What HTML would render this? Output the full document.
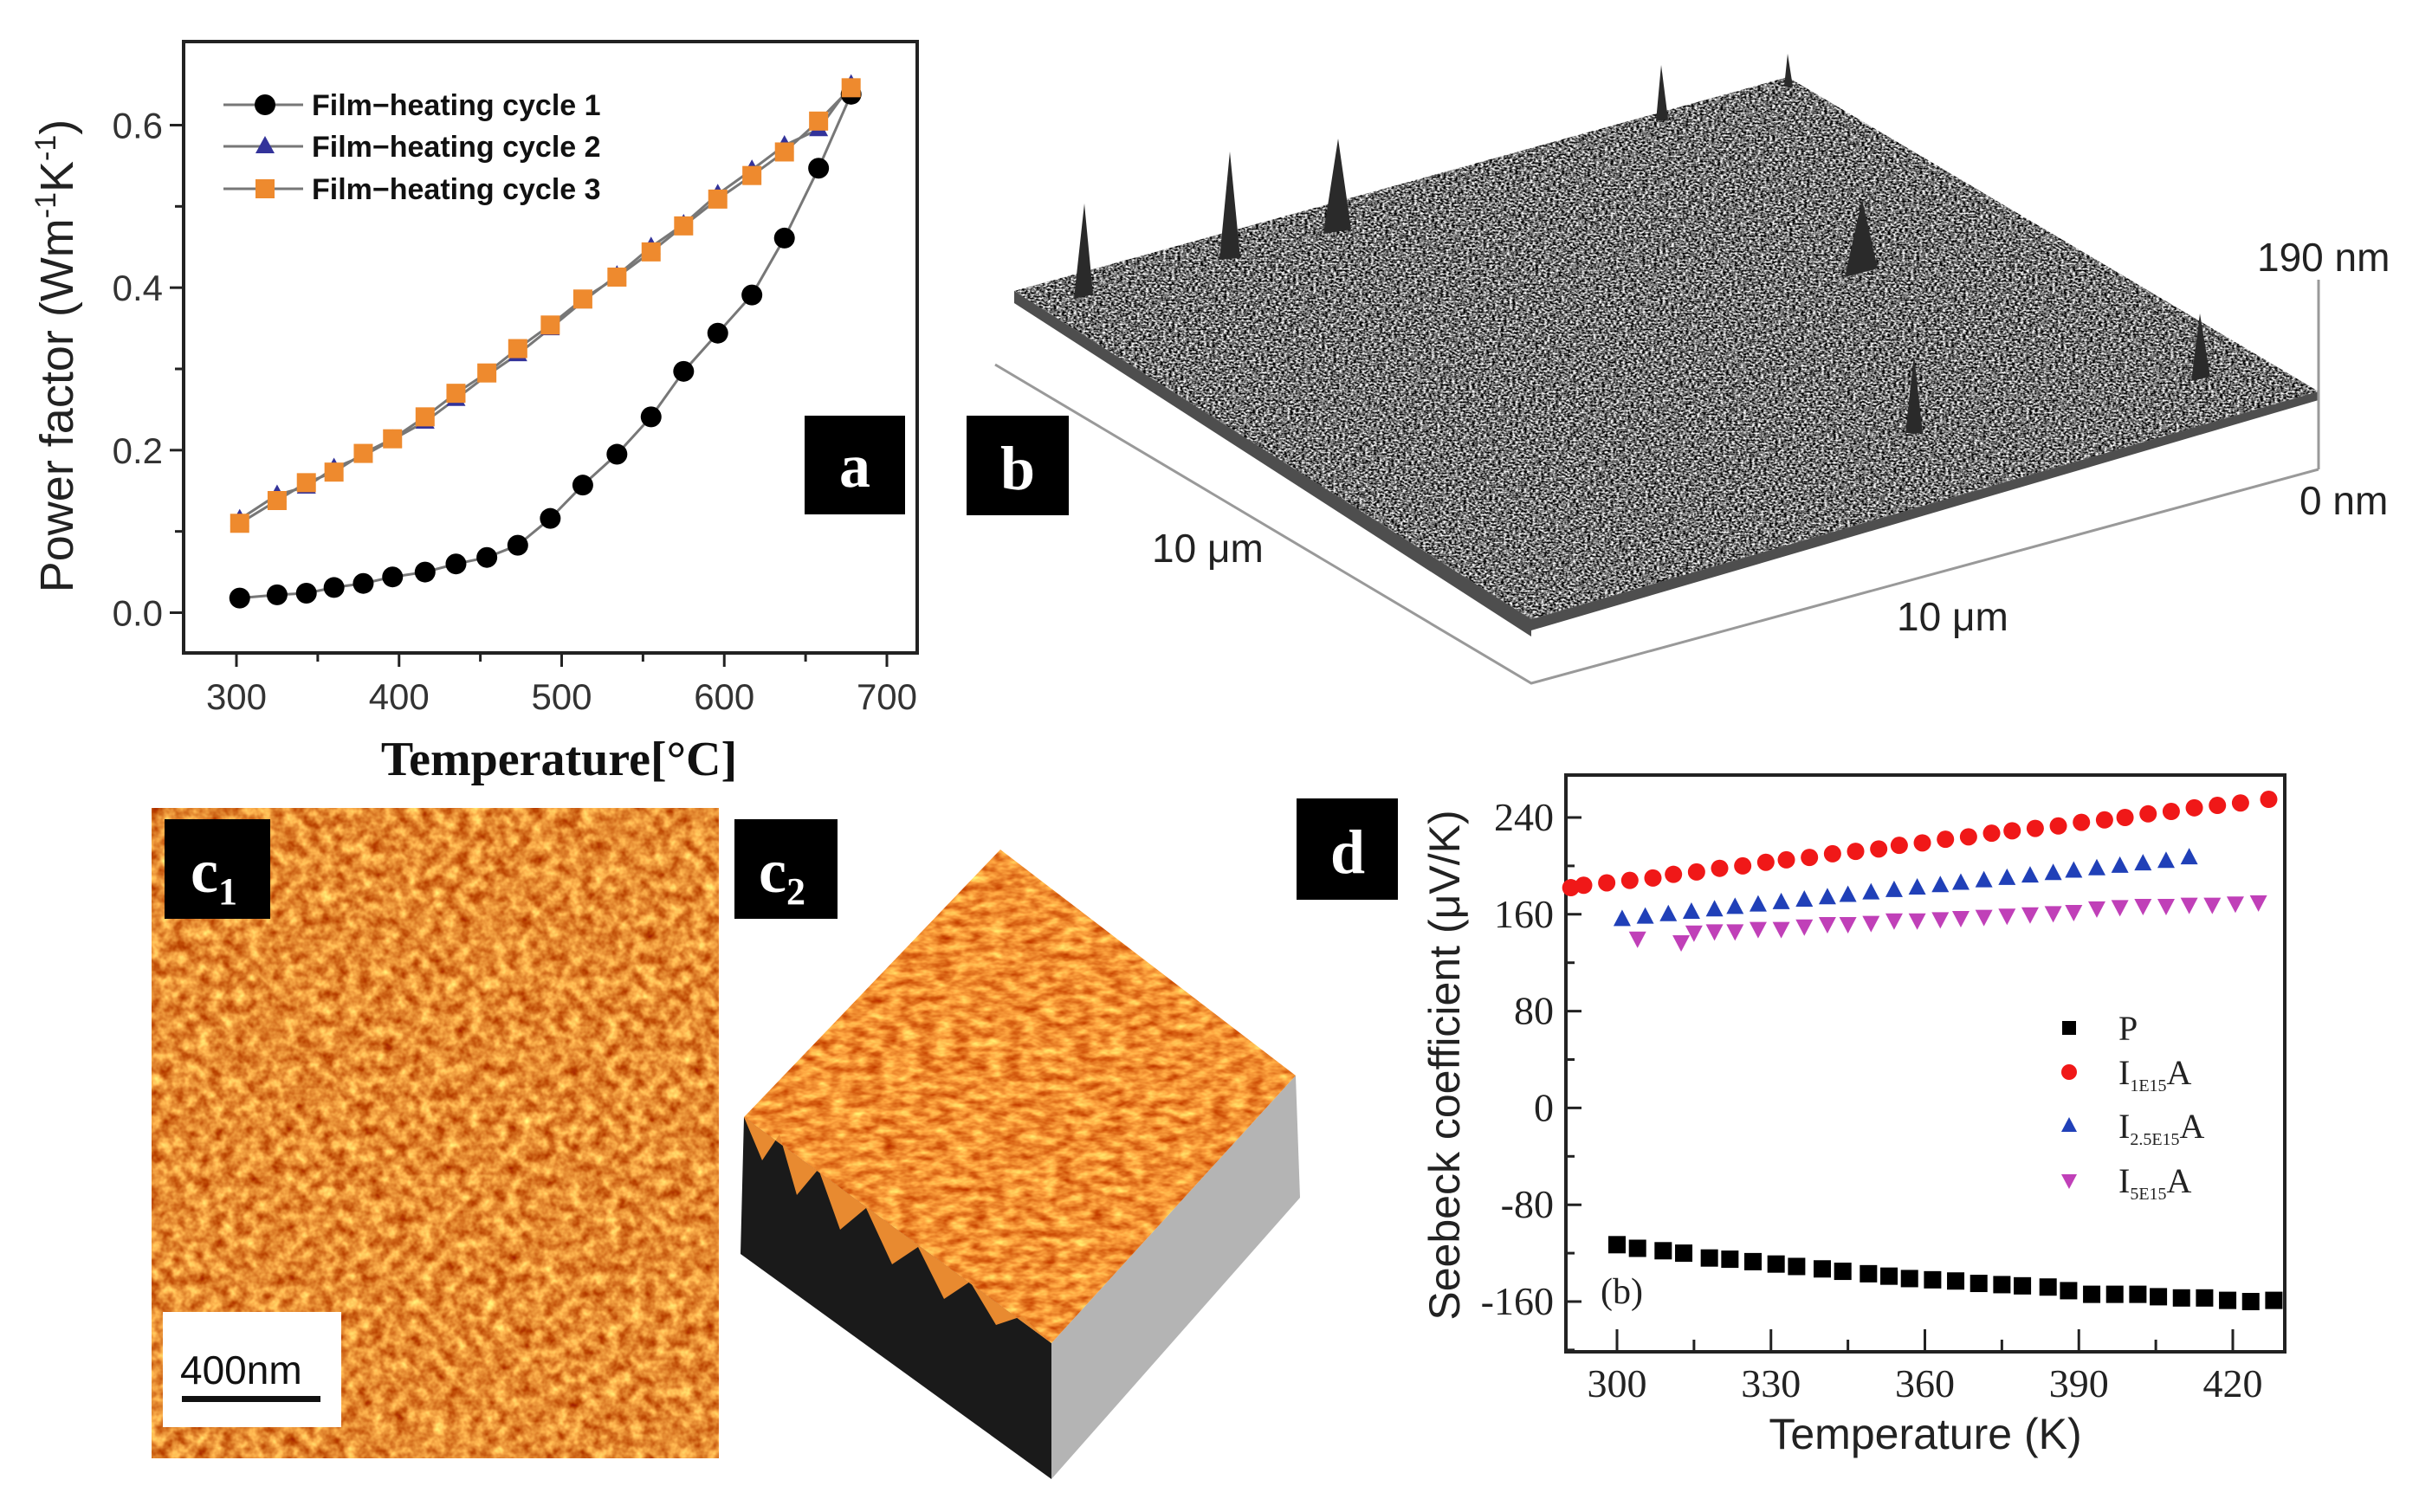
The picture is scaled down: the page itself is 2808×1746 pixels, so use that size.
<!DOCTYPE html>
<html><head><meta charset="utf-8">
<style>
html,body{margin:0;padding:0;background:#fff;}
svg{display:block;}
text{font-family:"Liberation Sans",sans-serif;}
.serif{font-family:"Liberation Serif",serif;}
</style></head>
<body>
<svg id="fig" width="2808" height="1746" viewBox="0 0 2808 1746" xmlns="http://www.w3.org/2000/svg">
<defs>
  <filter id="grayNoise" x="0" y="0" width="100%" height="100%" color-interpolation-filters="sRGB">
    <feTurbulence type="fractalNoise" baseFrequency="0.3 0.5" numOctaves="2" seed="3" result="n"/>
    <feColorMatrix type="matrix" values="1 0 0 0 0  1 0 0 0 0  1 0 0 0 0  0 0 0 0 1" in="n" result="g"/>
    <feComponentTransfer in="g"><feFuncR type="linear" slope="2.4" intercept="-0.75"/><feFuncG type="linear" slope="2.4" intercept="-0.75"/><feFuncB type="linear" slope="2.4" intercept="-0.75"/></feComponentTransfer>
  </filter>
  <filter id="orangeNoise" x="0" y="0" width="100%" height="100%" color-interpolation-filters="sRGB">
    <feTurbulence type="fractalNoise" baseFrequency="0.07" numOctaves="3" seed="7" result="n"/>
    <feColorMatrix type="matrix" values="0.6 0 0 0 0.6  1.0 0 0 0 0.05  0.7 0 0 0 -0.15  0 0 0 0 1" in="n"/>
  </filter>
  <filter id="orangeNoise2" x="0" y="0" width="100%" height="100%" color-interpolation-filters="sRGB">
    <feTurbulence type="fractalNoise" baseFrequency="0.05 0.1" numOctaves="3" seed="11" result="n"/>
    <feColorMatrix type="matrix" values="0.5 0 0 0 0.7  0.9 0 0 0 0.12  0.6 0 0 0 -0.1  0 0 0 0 1" in="n"/>
  </filter>
  <clipPath id="surfB"><polygon points="1171,336 2064,89 2677,452 1768,715"/></clipPath>
  <clipPath id="c1clip"><rect x="175" y="933" width="655" height="751"/></clipPath>
  <clipPath id="c2top"><polygon points="859,1290 1155,981 1496,1242 1214,1551"/></clipPath>
</defs>

<!-- Panel b -->
<g>
  <g clip-path="url(#surfB)">
    <rect x="1150" y="80" width="1540" height="650" fill="#666" filter="url(#grayNoise)"/>
  </g>
  <polygon points="1171,336 1768,715 1768,735 1171,350" fill="#222" opacity="0.8"/>
  <polygon points="1768,715 2677,452 2677,462 1768,728" fill="#222" opacity="0.8"/>
  <g fill="#2a2a2a">
    <polygon points="1240,345 1252,235 1262,340"/>
    <polygon points="1408,300 1420,175 1432,298"/>
    <polygon points="1528,270 1545,160 1560,265"/>
    <polygon points="1912,140 1918,75 1926,138"/>
    <polygon points="2060,100 2064,62 2070,100"/>
    <polygon points="2130,320 2150,230 2168,310"/>
    <polygon points="2530,440 2540,362 2552,435"/>
    <polygon points="2200,500 2210,410 2220,500"/>
  </g>
  <g stroke="#999" stroke-width="3" fill="none">
    <polyline points="1149,421 1768,789 2677,542"/>
    <line x1="2677" y1="323" x2="2677" y2="542"/>
  </g>
  <text x="2606" y="313" font-size="46" fill="#222">190 nm</text>
  <text x="2655" y="594" font-size="46" fill="#222">0 nm</text>
  <text x="1330" y="649" font-size="46" fill="#222">10 μm</text>
  <text x="2190" y="728" font-size="46" fill="#222">10 μm</text>
  <rect x="1116" y="480" width="118" height="115" fill="#000"/>
  <text x="1175" y="565" font-size="72" font-weight="bold" fill="#fff" text-anchor="middle" class="serif">b</text>
</g>

<!-- Panel c1 -->
<g>
  <g clip-path="url(#c1clip)"><rect x="175" y="933" width="655" height="751" fill="#d98030" filter="url(#orangeNoise)"/></g>
  <rect x="190" y="946" width="122" height="115" fill="#000"/>
  <text x="220" y="1030" font-size="72" font-weight="bold" fill="#fff" class="serif">c<tspan font-size="44" dy="14">1</tspan></text>
  <rect x="188" y="1515" width="206" height="133" fill="#fff"/>
  <text x="208" y="1598" font-size="46" fill="#111">400nm</text>
  <rect x="210" y="1612" width="160" height="7" fill="#111"/>
</g>

<!-- Panel c2 -->
<g>
  <polygon points="859,1290 1214,1551 1214,1708 855,1448" fill="#1a1a1a"/>
  <polygon points="1214,1551 1496,1242 1501,1383 1214,1708" fill="#b4b4b4"/>
  <g clip-path="url(#c2top)"><rect x="850" y="975" width="660" height="590" fill="#e88a30" filter="url(#orangeNoise2)"/></g>
  <polyline points="859,1290 880,1340 900,1310 920,1380 945,1350 970,1420 1000,1395 1030,1460 1060,1440 1090,1500 1120,1480 1150,1530 1180,1520 1214,1551" fill="#e88a30" stroke="none"/>
  <rect x="848" y="946" width="119" height="115" fill="#000"/>
  <text x="876" y="1030" font-size="72" font-weight="bold" fill="#fff" class="serif">c<tspan font-size="44" dy="14">2</tspan></text>
</g>

<g id="chartA"></g>
<g id="chartD"></g>
</svg>

<script>
// ---------- Panel a data ----------
const aTemps = [302,325,343,360,378,396,416,435,454,473,493,513,534,555,575,596,617,637,658,678];
const aCycle1 = [0.018,0.022,0.024,0.031,0.036,0.044,0.050,0.060,0.068,0.083,0.116,0.157,0.195,0.241,0.297,0.344,0.391,0.461,0.547,0.638];
const aCycle2 = [0.115,0.145,0.155,0.178,0.193,0.213,0.235,0.263,0.292,0.318,0.350,0.383,0.415,0.450,0.478,0.515,0.545,0.575,0.595,0.650];
const aCycle3 = [0.110,0.138,0.160,0.173,0.196,0.214,0.241,0.270,0.295,0.325,0.354,0.386,0.413,0.444,0.476,0.509,0.538,0.567,0.605,0.646];
const aXTicks = [300,400,500,600,700];
const aYTicks = [0.0,0.2,0.4,0.6];
const aLegend = ["Film\u2212heating cycle 1","Film\u2212heating cycle 2","Film\u2212heating cycle 3"];

// ---------- Panel d data ----------
const dTempsRed = [291,293.5,298,302.5,307,311,315.5,320,324.5,329,333,337.5,342,346.5,351,355,359.5,364,368.5,373,377,381.5,386,390.5,395,399,403.5,408,412.5,417,421.5,427];
const dRed = [182,184,186,188,190,193,195,198,200,203,205,207,210,212,214,217,219,222,224,227,229,231,233,236,238,240,243,245,248,250,252,255];
const dTempsBlue = [301,305.5,310,314.5,319,323,327.5,332,336.5,341,345,349.5,354,358.5,363,367,371.5,376,380.5,385,389,393.5,398,402.5,407,411.5];
const dBlue = [156,158,160,162,164,166,168,170,172,174,176,178,180,182,184,186,188,190,192,194,196,198,200,202,204,207];
const dTempsMag = [304,312.5,315,319,323,327.5,332,336.5,341,345,349.5,354,358.5,363,367,371.5,376,380.5,385,389,393.5,398,402.5,407,411.5,416,420.5,425];
const dMag = [140,137,145,146,146,148,148,150,152,152,153,155,155,156,157,158,159,160,161,162,165,166,167,167,168,168,169,170];
const dTempsP = [300,304,309,313,318,322,326.5,331,335,340,344,349,353,357,361.5,366,370.5,375,379,384,388,392.5,397,401.5,405.5,410,414.5,419,423.5,428];
const dP = [-113,-116,-118,-120,-124,-125,-127,-129,-131,-133,-135,-137,-139,-141,-142,-143,-145,-146,-147,-148,-151,-154,-154,-154,-156,-157,-157,-159,-160,-159];
const dXTicks = [300,330,360,390,420];
const dYTicks = [240,160,80,0,-80,-160];

const NS = "http://www.w3.org/2000/svg";
function mk(tag, attrs, parent){ const e=document.createElementNS(NS,tag); for(const k in attrs) e.setAttribute(k,attrs[k]); parent.appendChild(e); return e; }

// ---------- Draw panel a ----------
(function(){
  const g = document.getElementById('chartA');
  const L=212,R=1059,T=48,B=754;
  const xs = v => 273 + (v-300)*(1024-273)/400;
  const ys = v => 707.5 - v*(707.5-144.5)/0.6;
  const box = mk('rect',{x:L,y:T,width:R-L,height:B-T,fill:'none',stroke:'#222','stroke-width':4},g);
  
  
  for(let v=300; v<=700; v+=50){
    const t=mk('line',{x1:xs(v),x2:xs(v),y1:B,y2:B+(v%100===0?16:10),stroke:'#222','stroke-width':3},g);
    
    
  }
  aXTicks.forEach(v=>{
    const t=mk('text',{x:xs(v),y:B+65,'font-size':42,'text-anchor':'middle',fill:'#333'},g); t.textContent=v;
    
    
  });
  for(let v=0; v<=0.65; v+=0.1){
    const t=mk('line',{x1:L,x2:L-(Math.round(v*10)%2===0?16:10),y1:ys(v),y2:ys(v),stroke:'#222','stroke-width':3},g);
    
    
  }
  aYTicks.forEach(v=>{
    const t=mk('text',{x:L-24,y:ys(v)+15,'font-size':42,'text-anchor':'end',fill:'#333'},g); t.textContent=v.toFixed(1);
    
    
  });
  const yt=mk('text',{x:0,y:0,'font-size':54,'text-anchor':'middle',fill:'#222',transform:'translate(84,'+((T+B)/2+10)+') rotate(-90)'},g);
  yt.innerHTML='Power factor (Wm<tspan font-size="34" dy="-20">-1</tspan><tspan dy="20">K</tspan><tspan font-size="34" dy="-20">-1</tspan><tspan dy="20">)</tspan>';
  
  
  const xt=mk('text',{x:(L+R)/2+10,y:895,'font-size':56,'font-weight':'bold','text-anchor':'middle',fill:'#111','class':'serif'},g);
  xt.textContent='Temperature[\u00b0C]';
  
  

  function line(vals, name){
    const p=mk('polyline',{points:aTemps.map((t,i)=>xs(t)+','+ys(vals[i])).join(' '),fill:'none',stroke:'#777','stroke-width':3},g);
    
    
  }
  line(aCycle1,'cycle1-line'); line(aCycle2,'cycle2-line'); line(aCycle3,'cycle3-line');
  aTemps.forEach((t,i)=>{
    const c=mk('circle',{cx:xs(t),cy:ys(aCycle1[i]),r:12,fill:'#000'},g);
    
    
  });
  aTemps.forEach((t,i)=>{
    const x=xs(t),y=ys(aCycle2[i]);
    const p=mk('polygon',{points:`${x},${y-12} ${x-11},${y+8} ${x+11},${y+8}`,fill:'#33339a'},g);
    
    
  });
  aTemps.forEach((t,i)=>{
    const x=xs(t),y=ys(aCycle3[i]);
    const p=mk('rect',{x:x-11,y:y-11,width:22,height:22,fill:'#ee8a2e'},g);
    
    
  });
  const ly=[121,169,218];
  aLegend.forEach((s,i)=>{
    const l=mk('line',{x1:258,x2:350,y1:ly[i],y2:ly[i],stroke:'#777','stroke-width':3},g);
    
    
    let m;
    if(i===0) m=mk('circle',{cx:306,cy:ly[i],r:12,fill:'#000'},g);
    else if(i===1) m=mk('polygon',{points:`306,${ly[i]-12} 295,${ly[i]+8} 317,${ly[i]+8}`,fill:'#33339a'},g);
    else m=mk('rect',{x:295,y:ly[i]-11,width:22,height:22,fill:'#ee8a2e'},g);
    
    
    const t=mk('text',{x:360,y:ly[i]+12,'font-size':34,'font-weight':'bold',fill:'#111'},g); t.textContent=s;
    
    
  });
  const lb=mk('rect',{x:929,y:480,width:116,height:114,fill:'#000'},g);
  
  
  const la=mk('text',{x:987,y:562,'font-size':72,'font-weight':'bold',fill:'#fff','text-anchor':'middle','class':'serif'},g);
  la.textContent='a';
  
  
})();

// ---------- Draw panel d ----------
(function(){
  const g = document.getElementById('chartD');
  const L=1808,R=2638,T=895,B=1561;
  const xs = v => 1867 + (v-300)*(2578-1867)/120;
  const ys = v => 944 + (240-v)*(1503-944)/400;
  const lb=mk('rect',{x:1497,y:922,width:117,height:117,fill:'#000'},g);
  
  
  const ld=mk('text',{x:1556,y:1008,'font-size':72,'font-weight':'bold',fill:'#fff','text-anchor':'middle','class':'serif'},g);
  ld.textContent='d';
  
  
  const box=mk('rect',{x:L,y:T,width:R-L,height:B-T,fill:'none',stroke:'#222','stroke-width':4},g);
  
  
  for(let v=285; v<=430; v+=15){
    if(xs(v)<L+2) continue;
    const t=mk('line',{x1:xs(v),x2:xs(v),y1:B,y2:B-(v%30===0?26:14),stroke:'#222','stroke-width':3},g);
    
    
  }
  dXTicks.forEach(v=>{
    const t=mk('text',{x:xs(v),y:B+52,'font-size':46,'text-anchor':'middle',fill:'#222','class':'serif'},g); t.textContent=v;
    
    
  });
  for(let v=-200; v<=260; v+=40){
    if(ys(v)>B-2||ys(v)<T+2) continue;
    const t=mk('line',{x1:L,x2:L+(v%80===0?18:10),y1:ys(v),y2:ys(v),stroke:'#222','stroke-width':3},g);
    
    
  }
  dYTicks.forEach(v=>{
    const t=mk('text',{x:L-14,y:ys(v)+15,'font-size':46,'text-anchor':'end',fill:'#222','class':'serif'},g); t.textContent=v;
    
    
  });
  const yt=mk('text',{x:0,y:0,'font-size':50,'text-anchor':'middle',fill:'#222',transform:'translate(1685,1230) rotate(-90)'},g);
  yt.textContent='Seebeck coefficient (\u03bcV/K)';
  
  
  const xt=mk('text',{x:2223,y:1673,'font-size':50,'text-anchor':'middle',fill:'#222'},g);
  xt.textContent='Temperature (K)';
  
  
  const pb=mk('text',{x:1848,y:1505,'font-size':42,fill:'#222','class':'serif'},g);
  pb.textContent='(b)';
  
  

  dTempsRed.forEach((t,i)=>{
    const c=mk('circle',{cx:xs(t),cy:ys(dRed[i]),r:10,fill:'#f01818'},g);
    
    
  });
  dTempsBlue.forEach((t,i)=>{
    const x=xs(t),y=ys(dBlue[i]);
    const p=mk('polygon',{points:`${x},${y-11} ${x-10},${y+8} ${x+10},${y+8}`,fill:'#2040b8'},g);
    
    
  });
  dTempsMag.forEach((t,i)=>{
    const x=xs(t),y=ys(dMag[i]);
    const p=mk('polygon',{points:`${x},${y+11} ${x-10},${y-8} ${x+10},${y-8}`,fill:'#c040b8'},g);
    
    
  });
  dTempsP.forEach((t,i)=>{
    const p=mk('rect',{x:xs(t)-10,y:ys(dP[i])-10,width:20,height:20,fill:'#000'},g);
    
    
  });
  const lx=2389, ly=[1187,1238,1300,1363];
  let m;
  m=mk('rect',{x:lx-8,y:ly[0]-8,width:16,height:16,fill:'#000'},g);
  
  
  m=mk('circle',{cx:lx,cy:ly[1],r:9,fill:'#f01818'},g);
  
  
  m=mk('polygon',{points:`${lx},${ly[2]-10} ${lx-9},${ly[2]+7} ${lx+9},${ly[2]+7}`,fill:'#2040b8'},g);
  
  
  m=mk('polygon',{points:`${lx},${ly[3]+10} ${lx-9},${ly[3]-7} ${lx+9},${ly[3]-7}`,fill:'#c040b8'},g);
  
  
  const labs=['P','I<tspan font-size="20" dy="8">1E15</tspan><tspan dy="-8">A</tspan>','I<tspan font-size="20" dy="8">2.5E15</tspan><tspan dy="-8">A</tspan>','I<tspan font-size="20" dy="8">5E15</tspan><tspan dy="-8">A</tspan>'];
  labs.forEach((s,i)=>{
    const t=mk('text',{x:2446,y:ly[i]+14,'font-size':40,fill:'#222','class':'serif'},g);
    t.innerHTML=s;
    
    
  });
})();
</script>
</body></html>
